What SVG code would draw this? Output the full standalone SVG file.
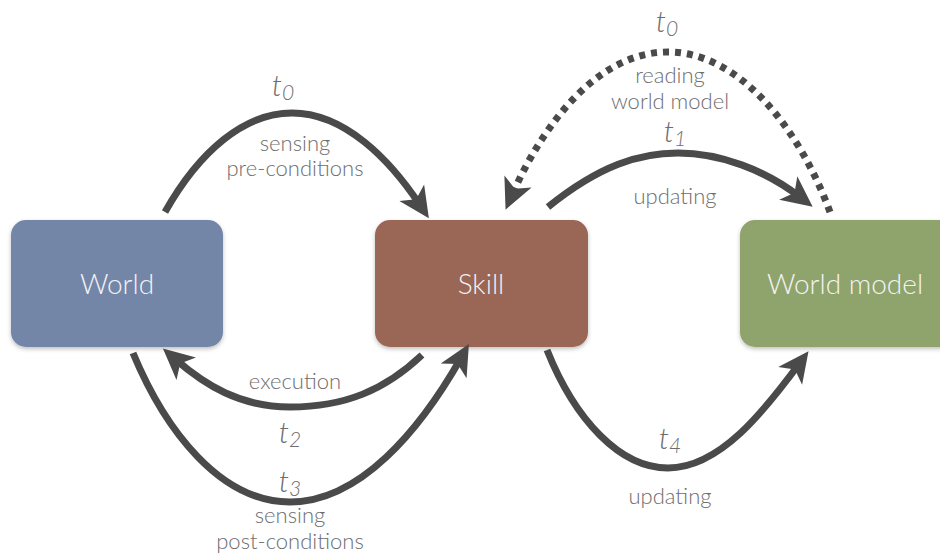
<svg xmlns="http://www.w3.org/2000/svg" width="940" height="555" viewBox="0 0 940 555">
<style>
.box{stroke:none}
.ntext{font-family:Lato,"Open Sans",sans-serif;font-size:28px;fill:#f3f3f3;text-anchor:middle;font-weight:300}
.lbl{font-family:Lato,"Open Sans",sans-serif;font-size:22px;fill:#6e6e6e;text-anchor:middle;font-weight:300}
.t{font-family:Lato,"Open Sans",sans-serif;font-size:30px;fill:#6e6e6e;text-anchor:middle;font-style:italic;font-weight:300}
.sub{font-size:21px}
.arc{fill:none;stroke:#4a4a4a;stroke-width:7}
.dot{stroke-dasharray:6 6}
</style>
<defs>
<marker id="ah" markerUnits="userSpaceOnUse" markerWidth="32" markerHeight="32" viewBox="0 -14 28 28" refX="13" refY="0" orient="auto">
<path d="M0,-13 L27,0 L0,13 L7,0 z" fill="#4a4a4a"/>
</marker>
<filter id="sh" x="-10%" y="-10%" width="120%" height="130%">
<feDropShadow dx="0" dy="2" stdDeviation="2" flood-color="#000" flood-opacity="0.25"/>
</filter>
</defs>
<g id="world">
<rect class="box" x="11" y="220" width="212" height="127" rx="15" fill="#7386a8" filter="url(#sh)"/>
<text class="ntext" x="117" y="294">World</text>
</g>
<g id="skill">
<rect class="box" x="375" y="220" width="213" height="127" rx="15" fill="#9a6657" filter="url(#sh)"/>
<text class="ntext" x="481" y="294">Skill</text>
</g>
<g id="worldmodel">
<rect class="box" x="740" y="220" width="215" height="127" rx="15" fill="#8fa36c" filter="url(#sh)"/>
<text class="ntext" x="845" y="294">World model</text>
</g>
<g id="connectors">
<path class="arc" d="M165,212 C200,150 245,113 292,113 C345,113 390,160 420,205" marker-end="url(#ah)"/>
<path class="arc dot" d="M830,212 C800,130 740,52 668,52 C600,52 545,120 512,195" marker-end="url(#ah)"/>
<path class="arc" d="M548,207 C600,165 640,153 678,153 C720,153 765,170 800,197" marker-end="url(#ah)"/>
<path class="arc" d="M422,355 C385,390 345,407 290,407 C240,407 205,385 175,359" marker-end="url(#ah)"/>
<path class="arc" d="M133,353 C165,430 220,502 290,502 C360,502 420,430 461,358" marker-end="url(#ah)"/>
<path class="arc" d="M547,350 C575,420 620,468 668,468 C720,468 765,410 799,364" marker-end="url(#ah)"/>
</g>
<g id="labels">
<text class="t" x="283" y="96">t<tspan class="sub" dy="4">0</tspan></text>
<text class="lbl" x="295" y="151">sensing</text>
<text class="lbl" x="295" y="176">pre-conditions</text>
<text class="t" x="667" y="32">t<tspan class="sub" dy="4">0</tspan></text>
<text class="lbl" x="670" y="83">reading</text>
<text class="lbl" x="670" y="109">world model</text>
<text class="t" x="675" y="142">t<tspan class="sub" dy="4">1</tspan></text>
<text class="lbl" x="675" y="204">updating</text>
<text class="lbl" x="295" y="389">execution</text>
<text class="t" x="290" y="443">t<tspan class="sub" dy="4">2</tspan></text>
<text class="t" x="290" y="492">t<tspan class="sub" dy="4">3</tspan></text>
<text class="lbl" x="290" y="523">sensing</text>
<text class="lbl" x="290" y="549">post-conditions</text>
<text class="t" x="670" y="449">t<tspan class="sub" dy="4">4</tspan></text>
<text class="lbl" x="670" y="504">updating</text>
</g>
</svg>
